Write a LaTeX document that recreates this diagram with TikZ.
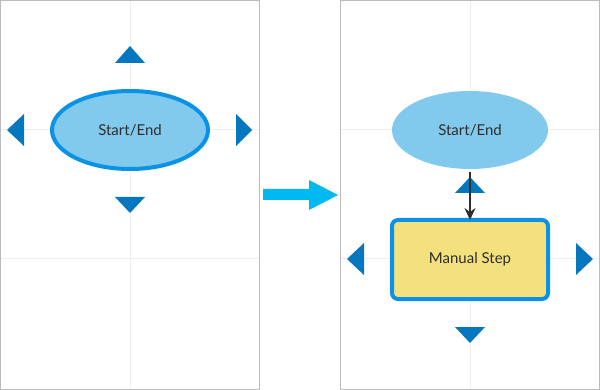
\documentclass[tikz,border=0pt]{standalone}
\usepackage{fontspec}
\setmainfont{Lato}
\usetikzlibrary{arrows.meta,shapes.geometric}
\definecolor{panelgray}{HTML}{BBBBBB}
\definecolor{gridgray}{HTML}{EEEEEE}
\definecolor{termfill}{HTML}{82C9EE}
\definecolor{selblue}{HTML}{0A93E6}
\definecolor{handleblue}{HTML}{0577BF}
\definecolor{stepfill}{HTML}{F2E17C}
\definecolor{movecyan}{HTML}{00B9F1}
\definecolor{inkgray}{HTML}{2E2E2E}

\begin{document}
\begin{tikzpicture}[x=1pt,y=-1pt,>={Stealth[length=12pt,width=11pt,inset=4pt]},
  lab/.style={font=\fontsize{15}{17}\selectfont,text=inkgray},
  terminal/.style={ellipse,fill=termfill,minimum width=156pt,minimum height=78pt,inner sep=0pt,lab},
  stepbox/.style={rectangle,rounded corners=6pt,fill=stepfill,minimum width=156pt,minimum height=79pt,inner sep=0pt,lab},
  selected/.style={draw=selblue,line width=4pt},
  handle/.style={fill=handleblue},
  gridline/.style={gridgray,line width=1pt}]
  \useasboundingbox (0,0) rectangle (600,390);
  % ---------------- before: shape selected ----------------
  \begin{scope}
    \draw[gridline] (130,0) -- (130,390);
    \draw[gridline] (0,130) -- (259,130);
    \draw[gridline] (0,259) -- (259,259);
    \draw[panelgray] (0.5,0.5) rectangle (259.5,389.5);
    \node[terminal,selected] (term1) at (130,130) {Start/End};
    % connection handles
    \fill[handle] (130,46) -- (145,63) -- (115,63) -- cycle;
    \fill[handle] (130,213) -- (145,197) -- (115,197) -- cycle;
    \fill[handle] (7,130) -- (24,114) -- (24,146) -- cycle;
    \fill[handle] (252,130) -- (236,114) -- (236,146) -- cycle;
  \end{scope}
  % ---------------- move arrow ----------------
  \fill[movecyan] (263,189) -- (309,189) -- (309,180) -- (338,195)
    -- (309,210) -- (309,200) -- (263,200) -- cycle;
  % ---------------- after: new step added ----------------
  \begin{scope}
    \draw[gridline] (470,0) -- (470,390);
    \draw[gridline] (340,130) -- (600,130);
    \draw[gridline] (340,259) -- (600,259);
    \draw[panelgray] (340.5,0.5) rectangle (599.5,389.5);
    \node[terminal] (term2) at (470,130) {Start/End};
    \node[stepbox,selected] (manual) at (470,259.5) {Manual Step};
    % connection handles
    \fill[handle] (470,177) -- (485,193) -- (455,193) -- cycle;
    \fill[handle] (470,343) -- (485,327) -- (455,327) -- cycle;
    \fill[handle] (347,259) -- (364,243) -- (364,275) -- cycle;
    \fill[handle] (593,259) -- (576,243) -- (576,275) -- cycle;
    \coordinate (src) at (470,172);
    \draw[->,line width=1.6pt,inkgray] (src) -- ([yshift=-2pt]manual.north);
  \end{scope}
\end{tikzpicture}
\end{document}
